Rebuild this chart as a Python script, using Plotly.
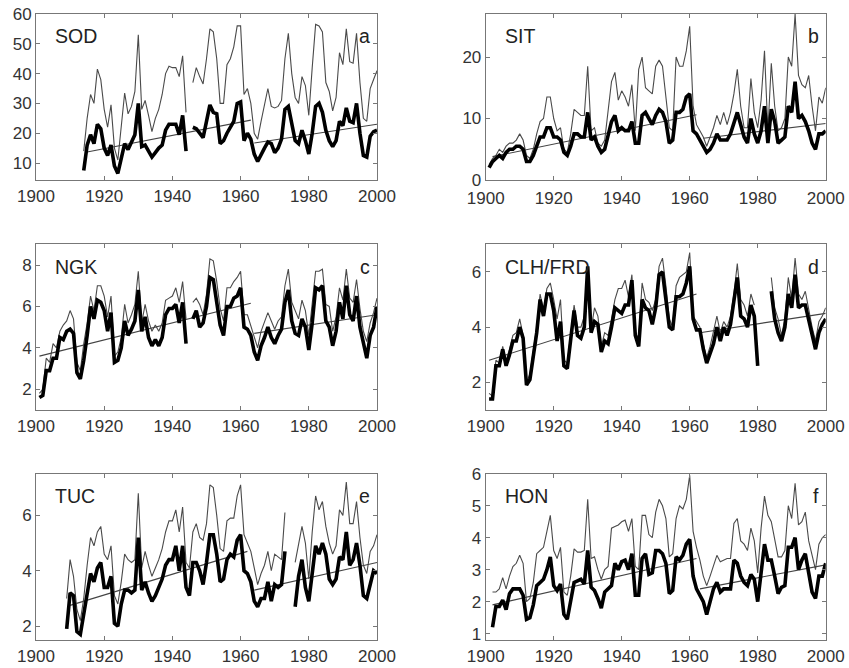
import plotly.graph_objects as go

# ---------------- data ----------------
SOD_start = 1914
SOD_thin = [14, 25, 33, 30, 41.5, 38,
            28, 22, 29.5, 15, 11, 22, 33.5, 26.5, 29, 34,
            53, 28, 31, 26, 20.5, 25, 28, 33, 40, 42.5,
            42, 42, 39, 46, 27, None, 37, 42, 39, 36.5,
            45, 55, 54, 45, 30, 30, 43, 45, 49, 56,
            56, 33, 35, 30, 20, 18, 24, 29, 35, 29,
            28.5, 29, 31, 45, 53.5, 40, 32, 30, 39, 36,
            26, 42, 56.5, 56, 54, 37, 34, 27.5, 32, 47,
            43, 55, 44, 43.5, 53.5, 37, 25, 24, 35, 38,
            41]
SOD_thick = [7.5, 16, 19.5, 16.5, 23, 21.5,
             15, 12.5, 16, 9, 6.5, 11, 16.5, 14.5, 17, 19.5,
             30, 15.5, 16, 14, 12, 13.5, 15, 16, 21, 23,
             23, 23, 19.5, 26, 14, None, 22, 21.5, 20, 18.5,
             24, 29.5, 27, 26.5, 16.5, 17.5, 20, 22, 24, 30,
             30.5, 17.5, 20, 18, 13, 10.5, 13, 15, 17, 16.5,
             13.5, 15, 18, 28, 29, 23, 17.5, 16.5, 21, 17.5,
             13, 20, 29, 30, 27, 21, 17.5, 15.5, 17.5, 24,
             22.5, 28.5, 24, 23.5, 30, 20, 12.5, 12, 19, 20.5,
             21]
SOD_trend_x = [1915, 1963, None, 1964, 2000]
SOD_trend_y = [13.7, 24.4, None, 16.7, 23.0]

SIT_start = 1901
SIT_thin = [2.5, 3.5, 4, 5, 4.5, 5.5, 6, 6, 6.5,
            7.5, 6.5, 4, 3.5, 5, 7.5, 9.5, 10, 13.5, 13.5,
            10, 8, 8.5, 5, 4.5, 7.5, 11.5, 11, 10.5, 10.5,
            18.5, 8, 8.5, 6, 5.5, 6.5, 11, 16, 17.5, 13,
            14.5, 13.5, 12, 15.5, 8, 18, 20, 15, 14.5, 14,
            18.5, 19.5, 18.5, 14, 8.5, 8, 20, 18.5, 18.5, 21,
            25, 12, 9, 8, 7, 5.5, 7, 8.5, 10.5, 9,
            11, 9, 11, 14, 18, 12, 8.5, 8.5, 16.5, 11,
            8.5, 13, 21, 8, 19, 12, 8, 8.5, 10, 20,
            18.5, 27, 17, 15.5, 15, 17, 12, 8, 13.5, 12.5,
            15]
SIT_thick = [2, 3, 3.5, 4, 3.5, 4.5, 5, 5, 5.5,
             5.5, 5, 3, 3, 4, 5.5, 7, 7, 8.5, 8.5,
             7, 7, 6.5, 4.5, 4, 5.5, 7.5, 7.5, 7, 7,
             11, 6.5, 7, 5.5, 4.5, 5, 7, 9.5, 10.5, 8,
             8.5, 8, 8, 9.5, 6, 6, 10.5, 11, 10, 9,
             10.5, 11.5, 11, 9.5, 6, 6.5, 11, 11, 11.5, 13.5,
             14, 8, 7.5, 6.5, 5.5, 4.5, 5, 6, 7.5, 6.5,
             6.5, 6.5, 7.5, 9.5, 11, 9, 7, 6, 10, 7.5,
             6, 8, 12, 6, 11.5, 9.5, 6, 6.5, 7, 12,
             11, 16, 10, 10.5, 9.5, 8, 6, 5, 7.5, 7.5,
             8]
SIT_trend_x = [1902, 1962, None, 1964, 2000]
SIT_trend_y = [3.8, 10.6, None, 6.8, 9.2]

NGK_start = 1901
NGK_thin = [1.8, 2.0, 3.5, 3.3, 4.2, 4.0, 4.8, 5.1, 5.3,
            5.8, 5.4, 3.3, 2.9, 4.2, 5.2, 6.5, 5.8, 7.0, 7.0,
            6.5, 5.5, 6.5, 3.6, 3.8, 4.5, 6.1, 5.2, 5.6, 6.1,
            7.7, 5.2, 6.1, 5.3, 4.8, 5.1, 4.8, 5.2, 6.3, 6.4,
            6.5, 6.9, 6.2, 7.2, 5.4, None, 6.2, 6.4, 6.1, 5.6,
            6.6, 8.3, 8.2, 7.2, 5.9, 5.3, 6.9, 6.9, 7.2, 7.4,
            7.7, 5.6, 5.6, 5.1, 4.6, 4.0, 4.8, 5.3, 5.7, 5.3,
            4.9, 5.3, 5.5, 7.0, 7.8, 6.2, 5.8, 5.4, 6.3, 5.8,
            4.6, 6.1, 7.7, 7.7, 7.8, 6.1, 6.0, 4.8, 5.5, 6.9,
            6.3, 7.8, 6.4, 6.2, 7.3, 5.9, 4.8, 4.3, 5.2, 5.7,
            6.4]
NGK_thick = [1.6, 1.7, 2.9, 2.9, 3.5, 3.5, 4.5, 4.4, 4.8,
             4.9, 4.7, 2.8, 2.5, 3.4, 4.6, 6.0, 5.4, 6.3, 6.2,
             5.8, 4.8, 5.7, 3.3, 3.4, 4.0, 5.3, 4.6, 4.9, 5.3,
             6.8, 4.8, 5.5, 4.5, 4.1, 4.4, 4.1, 4.5, 5.6, 5.9,
             5.9, 6.1, 5.2, 6.2, 4.2, None, 5.4, 5.8, 5.0, 5.2,
             6.0, 7.4, 7.3, 6.3, 5.1, 4.6, 6.0, 6.0, 6.4, 6.5,
             6.9, 5.0, 4.9, 4.6, 3.8, 3.4, 4.1, 4.5, 5.0, 4.5,
             4.2, 4.6, 4.9, 6.2, 6.8, 5.3, 4.7, 4.6, 5.4, 5.0,
             3.9, 5.2, 6.9, 6.8, 7.0, 5.3, 5.0, 4.1, 4.8, 6.2,
             5.4, 7.0, 5.6, 5.3, 6.5, 5.0, 4.3, 3.5, 4.6, 5.0,
             6.0]
NGK_trend_x = [1901, 1963, None, 1964, 2000]
NGK_trend_y = [3.6, 6.15, None, 4.7, 5.6]

CLH_start = 1901
CLH_thin = [1.6, 1.5, 2.8, 2.7, 3.3, 2.8, 3.2, 3.7, 3.8,
            4.3, 3.7, 2.0, 2.3, 3.2, 4.0, 5.2, 4.6, 5.4, 5.6,
            5.0, 4.3, 5.0, 2.8, 2.7, 3.8, 4.8, 4.0, 4.0, 4.4,
            6.2, 3.9, 4.7, 4.4, 3.3, 3.8, 3.7, 4.3, 5.0, 5.4,
            5.4, 5.7, 5.1, 5.9, 3.8, 3.6, 5.6, 5.0, 4.9, 4.6,
            5.0, 6.2, 6.5, 5.5, 4.3, 4.0, 5.5, 5.8, 5.9, 6.0,
            6.7, 4.4, 4.2, 4.0, 3.4, 2.9, 3.3, 3.8, 4.4, 3.8,
            4.2, 4.0, 4.4, 5.2, 6.3, 5.0, 4.8, 4.4, 5.2, 4.8,
            None, None, None, None, 5.8, 4.7, 4.3, 3.7, 4.3, 5.8,
            5.0, 6.5, 5.2, 5.0, 5.3, 4.6, 4.0, 3.5, 4.2, 4.4,
            4.7]
CLH_thick = [1.4, 1.4, 2.6, 2.6, 3.2, 2.6, 3.0, 3.5, 3.5,
             4.0, 3.6, 1.9, 2.1, 3.0, 3.8, 5.0, 4.4, 5.2, 5.2,
             4.6, 3.5, 4.2, 2.6, 2.5, 3.6, 4.6, 3.7, 3.6, 4.0,
             6.2, 3.8, 4.2, 4.1, 3.1, 3.5, 3.4, 4.0, 4.7, 4.6,
             4.5, 4.8, 4.8, 5.7, 3.7, 3.3, 5.0, 4.7, 4.6, 4.1,
             4.7, 5.9, 6.0, 5.0, 4.0, 3.9, 5.1, 5.1, 5.2, 5.6,
             6.2, 4.3, 3.9, 3.9, 3.2, 2.7, 3.1, 3.4, 4.0, 3.5,
             4.0, 3.7, 4.1, 4.9, 5.8, 4.4, 4.3, 4.0, 4.8, 4.4,
             2.6, None, None, None, 5.3, 4.3, 3.8, 3.5, 4.0, 5.2,
             4.7, 5.9, 4.7, 4.8, 4.8, 4.3, 3.8, 3.2, 3.8, 4.1,
             4.3]
CLH_trend_x = [1901, 1962, None, 1963, 2000]
CLH_trend_y = [2.8, 5.2, None, 3.8, 4.5]

TUC_start = 1909
TUC_thin = [3.0,
            4.4, 3.8, 2.6, 2.2, 3.0, 4.2, 5.2, 4.9, 5.4, 5.6,
            4.6, 4.4, 4.9, 3.1, 2.8, 3.6, 4.6, 4.4, 4.3, 4.4,
            6.8, 4.1, 4.7, 4.2, 3.8, 4.1, 4.4, 4.8, 5.4, 5.8,
            5.8, 6.2, 5.4, 6.3, 4.3, 4.1, 5.4, 5.7, 5.2, 5.1,
            5.7, 7.1, 7.0, 6.0, 4.8, 4.7, 5.8, 5.9, 5.9, 6.7,
            7.1, 5.3, 5.0, 4.7, 4.1, 3.5, 3.9, 4.2, 4.7, 4.0,
            4.6, 4.5, 4.4, 6.1, None, None, 4.3, 5.0, 5.6, 5.0,
            3.7, 5.4, 6.7, 6.2, 6.5, 5.6, 5.0, 4.6, 4.9, 6.2,
            6.0, 7.2, 5.7, 5.7, 6.5, 5.2, 4.2, 3.9, 4.7, 4.9,
            5.3]
TUC_thick = [1.9,
             3.2, 3.1, 1.8, 1.7, 2.5, 3.3, 3.9, 3.6, 4.1, 4.3,
             3.4, 3.4, 3.8, 2.1, 2.0, 2.8, 3.3, 3.3, 3.2, 3.3,
             5.2, 3.3, 3.6, 3.2, 2.9, 3.1, 3.4, 3.7, 4.2, 4.4,
             4.4, 4.9, 4.0, 4.9, 3.4, 3.1, 4.3, 4.3, 4.0, 3.5,
             4.3, 5.3, 5.3, 4.6, 3.6, 3.7, 4.4, 4.6, 4.5, 5.1,
             5.3, 4.0, 3.9, 3.6, 2.9, 2.7, 3.0, 3.0, 3.6, 2.9,
             3.5, 3.4, 3.5, 4.7, None, None, 2.7, 3.8, 4.4, 3.4,
             2.9, 3.9, 4.9, 4.6, 5.0, 4.6, 3.7, 3.5, 3.7, 4.5,
             4.4, 5.4, 4.2, 4.4, 5.0, 4.2, 3.1, 3.0, 3.5, 4.0,
             3.9]
TUC_trend_x = [1910, 1962, None, 1964, 2000]
TUC_trend_y = [2.75, 4.7, None, 3.3, 4.3]

HON_start = 1902
HON_thin = [2.3, 2.3, 2.4, 2.75, 2.4, 2.8, 3.1, 3.2,
            3.45, 3.2, 2.0, 2.1, 2.6, 3.5, 3.6, 3.7, 4.2, 4.7,
            3.6, 3.35, 3.7, 2.3, 2.2, 2.8, 3.65, 3.55, 3.55, 3.6,
            5.2, 3.35, 3.4, 3.0, 2.7, 3.0, 3.1, 4.3, 4.35, 4.4,
            4.5, 4.55, 4.2, 4.6, 3.1, 3.0, 4.7, 4.7, 4.1, 4.0,
            4.8, 5.2, 5.0, 4.6, 3.4, 3.5, 4.6, 5.0, 4.9, 5.2,
            5.95, 4.2, 3.7, 3.3, 2.8, 2.5, 2.8, 3.1, 3.45, 3.25,
            3.3, 3.35, 3.35, 4.45, 4.6, 3.9, 3.8, 3.6, 4.3, 3.9,
            2.9, 4.3, 5.3, 4.7, 4.5, 4.0, 3.4, 3.4, 3.6, 5.0,
            4.6, 5.7, 4.4, 4.5, 4.8, 3.9, 3.4, 3.0, 3.8, 4.0,
            4.1]
HON_thick = [1.2, 1.85, 1.85, 2.05, 1.75, 2.25, 2.4, 2.4,
             2.4, 2.2, 1.45, 1.5, 1.9, 2.5, 2.6, 2.7, 3.0, 3.4,
             2.5, 2.35, 2.55, 1.6, 1.45, 2.0, 2.6, 2.65, 2.7, 2.55,
             3.6, 2.45, 2.35, 2.1, 1.8, 2.3, 2.4, 2.5, 3.2, 3.0,
             3.25, 3.3, 3.0, 3.5, 2.2, 2.2, 3.35, 3.5, 2.85, 2.9,
             3.6, 3.6, 3.5, 3.2, 2.25, 2.35, 3.4, 3.3, 3.45, 3.8,
             3.95, 2.8, 2.4, 2.2, 2.0, 1.6, 2.0, 2.4, 2.6, 2.3,
             2.4, 2.4, 2.4, 3.3, 3.2, 2.8, 2.6, 2.5, 2.85, 2.7,
             2.0, 2.9, 3.8, 3.3, 3.3, 2.8, 2.25, 2.45, 2.5, 3.7,
             3.7, 4.0, 3.0, 3.3, 3.5, 2.9, 2.3, 2.1, 2.8, 2.8,
             3.2]
HON_trend_x = [1902, 1962, None, 1963, 2000]
HON_trend_y = [1.9, 3.35, None, 2.4, 3.15]

station_names = ["SOD", "SIT", "NGK", "CLH/FRD", "TUC", "HON"]
panel_letters = ["a", "b", "c", "d", "e", "f"]
x_ticks = [1900, 1920, 1940, 1960, 1980, 2000]
y_ticks = [[10, 20, 30, 40, 50, 60], [0, 10, 20], [2, 4, 6, 8],
           [2, 4, 6], [2, 4, 6], [1, 2, 3, 4, 5, 6]]
y_ranges = [[4.3, 60], [0, 27], [1, 9], [1, 7], [1.5, 7.5], [0.8, 6]]

panels = [
    (SOD_start, SOD_thin, SOD_thick, SOD_trend_x, SOD_trend_y),
    (SIT_start, SIT_thin, SIT_thick, SIT_trend_x, SIT_trend_y),
    (NGK_start, NGK_thin, NGK_thick, NGK_trend_x, NGK_trend_y),
    (CLH_start, CLH_thin, CLH_thick, CLH_trend_x, CLH_trend_y),
    (TUC_start, TUC_thin, TUC_thick, TUC_trend_x, TUC_trend_y),
    (HON_start, HON_thin, HON_thick, HON_trend_x, HON_trend_y),
]

# ---------------- layout geometry (window pixels) ----------------
W, H = 849, 668


def xd(a, b):
    return [a / W, b / W]


def yd(top, bottom):
    return [1 - bottom / H, 1 - top / H]


x_dom = [xd(36, 377), xd(485.7, 825.7)]
y_dom = [yd(14, 180), yd(244.3, 410), yd(473.8, 640)]

FONT = "Liberation Sans, Arial, Helvetica, sans-serif"
fig = go.Figure()
layout = dict(width=W, height=H, margin=dict(l=0, r=0, t=0, b=0, pad=0),
              paper_bgcolor="white", plot_bgcolor="white", showlegend=False,
              font=dict(family=FONT, size=17, color="#333"))
annotations = []

for i, (start, thin, thick, tx, ty) in enumerate(panels):
    col = i % 2
    row = i // 2
    n = i + 1
    xa = "x" if n == 1 else f"x{n}"
    ya = "y" if n == 1 else f"y{n}"
    years = list(range(start, start + len(thin)))
    years_k = list(range(start, start + len(thick)))
    fig.add_trace(go.Scatter(x=years, y=thin, mode="lines", xaxis=xa, yaxis=ya,
                             line=dict(color="#4a4a4a", width=1.1), connectgaps=False,
                             hoverinfo="skip"))
    fig.add_trace(go.Scatter(x=tx, y=ty, mode="lines", xaxis=xa, yaxis=ya,
                             line=dict(color="#444", width=1.1), connectgaps=False,
                             hoverinfo="skip"))
    fig.add_trace(go.Scatter(x=years_k, y=thick, mode="lines", xaxis=xa, yaxis=ya,
                             line=dict(color="black", width=3.6), connectgaps=False,
                             hoverinfo="skip"))
    axcommon = dict(showline=True, linecolor="#777", linewidth=1, mirror="ticks",
                    ticks="inside", ticklen=4, tickcolor="#777", tickwidth=1,
                    showgrid=False, zeroline=False, automargin=False,
                    ticklabeloverflow="allow",
                    tickfont=dict(family=FONT, size=17, color="#333"))
    layout["xaxis" if n == 1 else f"xaxis{n}"] = dict(
        domain=x_dom[col], range=[1900, 2000], tickvals=x_ticks,
        anchor=ya, ticklabelstandoff=(3 if n == 2 else 1), **axcommon)
    layout["yaxis" if n == 1 else f"yaxis{n}"] = dict(
        domain=y_dom[row], range=y_ranges[i], tickvals=y_ticks[i],
        anchor=xa, **axcommon)
    annotations.append(dict(text=station_names[i], xref=f"{xa} domain", yref=f"{ya} domain",
                             x=0.05, y=0.865, xanchor="left", yanchor="middle",
                             showarrow=False, font=dict(family=FONT, size=19.5, color="#222")))
    annotations.append(dict(text=panel_letters[i], xref=f"{xa} domain", yref=f"{ya} domain",
                             x=0.985, y=0.865, xanchor="right", yanchor="middle",
                             showarrow=False, font=dict(family=FONT, size=19.5, color="#222")))

layout["annotations"] = annotations
fig.update_layout(**layout)
# remove the default 8px page margin so the 849x668 figure fills the window exactly
fig.write_html("out.html", config={"displayModeBar": False},
               post_script="document.body.style.margin='0';document.body.style.overflow='hidden';")
